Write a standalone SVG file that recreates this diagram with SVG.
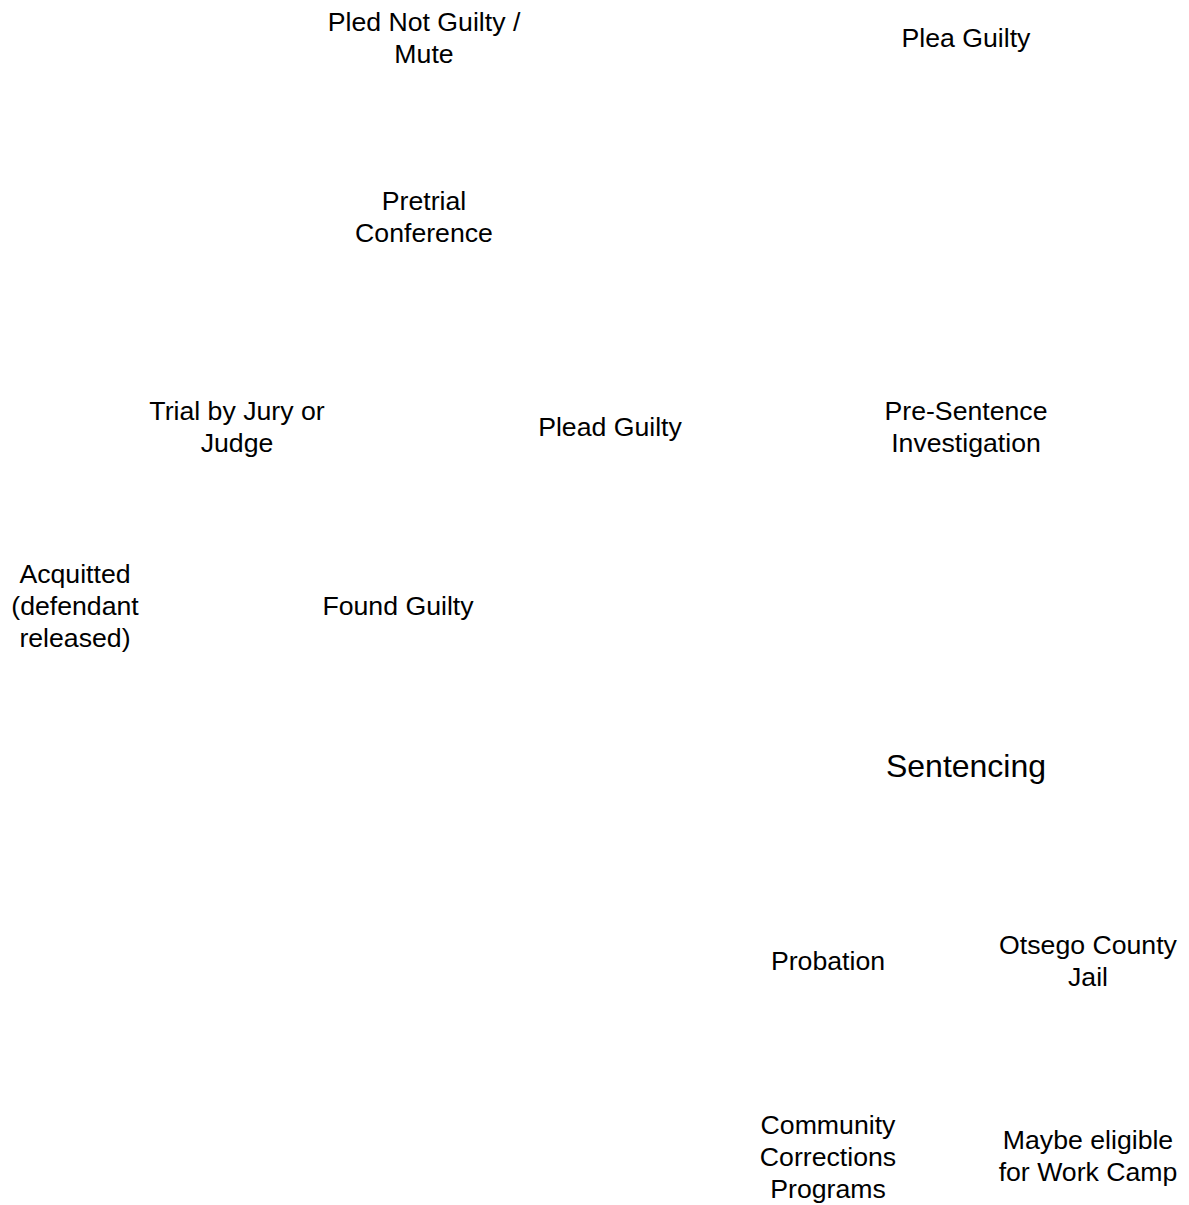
<svg xmlns="http://www.w3.org/2000/svg" width="1189" height="1205" viewBox="0 0 1189 1205">
<style>
text{font-family:"Liberation Sans",Arial,sans-serif;font-size:26.67px;fill:#000;text-anchor:middle}
.big{font-size:32px}
</style>
<rect width="1189" height="1205" fill="#fff"/>
<g id="connectors"></g>
<g id="n-notguilty"><text x="424" y="31">Pled Not Guilty /</text><text x="424" y="63">Mute</text></g>
<g id="n-pleaguilty"><text x="966" y="47">Plea Guilty</text></g>
<g id="n-pretrial"><text x="424" y="209.5">Pretrial</text><text x="424" y="241.5">Conference</text></g>
<g id="n-trial"><text x="237" y="419.5">Trial by Jury or</text><text x="237" y="451.5">Judge</text></g>
<g id="n-pleadguilty"><text x="610" y="435.5">Plead Guilty</text></g>
<g id="n-psi"><text x="966" y="419.5">Pre-Sentence</text><text x="966" y="451.5">Investigation</text></g>
<g id="n-acquitted"><text x="75" y="582.5">Acquitted</text><text x="75" y="614.5">(defendant</text><text x="75" y="646.5">released)</text></g>
<g id="n-foundguilty"><text x="398" y="614.5">Found Guilty</text></g>
<g id="n-sentencing"><text class="big" x="966" y="777">Sentencing</text></g>
<g id="n-probation"><text x="828" y="970">Probation</text></g>
<g id="n-jail"><text x="1088" y="954">Otsego County</text><text x="1088" y="986">Jail</text></g>
<g id="n-community"><text x="828" y="1133.5">Community</text><text x="828" y="1165.5">Corrections</text><text x="828" y="1197.5">Programs</text></g>
<g id="n-workcamp"><text x="1088" y="1149">Maybe eligible</text><text x="1088" y="1181">for Work Camp</text></g>
</svg>
